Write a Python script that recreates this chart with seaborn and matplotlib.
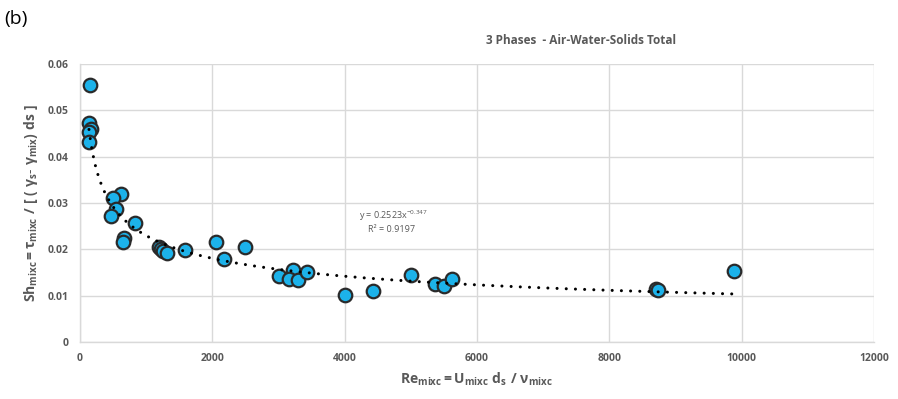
import numpy as np
import pandas as pd
import matplotlib
matplotlib.use("Agg")
import matplotlib.pyplot as plt
import seaborn as sns

# ---- data ----
re_mixc = [151, 136, 161, 141, 141, 620, 504, 544, 464, 831, 665, 645,
           1190, 1230, 1260, 1310, 1587, 2051, 2177, 2494, 3013, 3225, 3155,
           3291, 3427, 4006, 4424, 5004, 5366, 5503, 5628, 8707, 8733, 9891]
sh_mixc = [0.0554, 0.0472, 0.0459, 0.0454, 0.0431, 0.0319, 0.0311, 0.0287,
           0.0272, 0.0256, 0.0225, 0.0215, 0.0206, 0.0201, 0.0197, 0.0193,
           0.0198, 0.0215, 0.0179, 0.0205, 0.0142, 0.0156, 0.0135, 0.0133,
           0.0151, 0.0102, 0.0109, 0.0144, 0.0126, 0.0121, 0.0136, 0.0114,
           0.0113, 0.0153]
fit_a = 0.2523
fit_b = -0.347
fit_r2 = 0.9197
x_ticks = [0, 2000, 4000, 6000, 8000, 10000, 12000]
y_ticks = [0, 0.01, 0.02, 0.03, 0.04, 0.05, 0.06]
y_tick_labels = ["0", "0.01", "0.02", "0.03", "0.04", "0.05", "0.06"]

sns.set_theme(style="whitegrid")
plt.rcParams["font.family"] = ["Open Sans", "DejaVu Sans"]
plt.rcParams["mathtext.fontset"] = "custom"
plt.rcParams["mathtext.rm"] = "Open Sans"
plt.rcParams["mathtext.bf"] = "Open Sans:bold"
plt.rcParams["mathtext.it"] = "Open Sans:italic"

gray = "#595959"
df = pd.DataFrame({"Re": re_mixc, "Sh": sh_mixc})
fx = np.linspace(min(re_mixc), max(re_mixc), 400)
fit_df = pd.DataFrame({"Re": fx, "Sh": fit_a * fx ** fit_b})

fig = plt.figure(figsize=(8.98, 3.99), dpi=100)
ax = fig.add_axes([80 / 898, 1 - 342 / 399, (874 - 80) / 898, (342 - 64) / 399])

sns.scatterplot(data=df, x="Re", y="Sh", ax=ax, s=95, color="#1CB2EA",
                edgecolor="#2a2a2a", linewidth=1.6, zorder=3, legend=False)
sns.lineplot(data=fit_df, x="Re", y="Sh", ax=ax, color="black", lw=2.2,
             zorder=4, legend=False)
ax.lines[-1].set_dashes((0.01, 3.0))
ax.lines[-1].set_dash_capstyle("round")

ax.set_xlim(0, 12000)
ax.set_ylim(0, 0.06)
ax.set_xticks(x_ticks)
ax.set_xticklabels([str(v) for v in x_ticks])
ax.set_yticks(y_ticks)
ax.set_yticklabels(y_tick_labels)
ax.grid(True, color="#d9d9d9", lw=1)
for side in ["top", "right"]:
    ax.spines[side].set_visible(False)
for side in ["left", "bottom"]:
    ax.spines[side].set_color("#d9d9d9")
    ax.spines[side].set_linewidth(1)
ax.tick_params(axis="both", length=0, labelsize=7.5, labelcolor=gray, pad=8)
for lab in ax.get_xticklabels() + ax.get_yticklabels():
    lab.set_fontweight("bold")

ax.set_xlabel(r"$\mathbf{Re_{mixc}= U_{mixc}\ d_s\ /\ \nu_{mixc}}$",
              fontsize=10, color=gray, labelpad=5)
ax.set_ylabel(r"$\mathbf{Sh_{mixc}=\tau_{mixc}\ /\ [\ (\ \gamma_s\text{-}\ \gamma_{mix})\ ds\ ]}$",
              fontsize=10, color=gray, labelpad=6)

fig.text(359 / 898, 1 - 216 / 399, r"y = 0.2523x$^{-0.347}$", fontsize=6.5,
         color=gray, ha="left", va="center")
fig.text(368 / 898, 1 - 229 / 399, "R² = %.4f" % fit_r2, fontsize=6.5,
         color=gray, ha="left", va="center")

fig.text(581 / 898, 1 - 40 / 399, "3 Phases  - Air-Water-Solids Total",
         fontsize=8.5, fontweight="bold", color=gray, ha="center", va="center")
fig.text(4 / 898, 1 - 19 / 399, "(b)", fontsize=14, color="black",
         ha="left", va="center")

fig.savefig("out.png", dpi=100)
